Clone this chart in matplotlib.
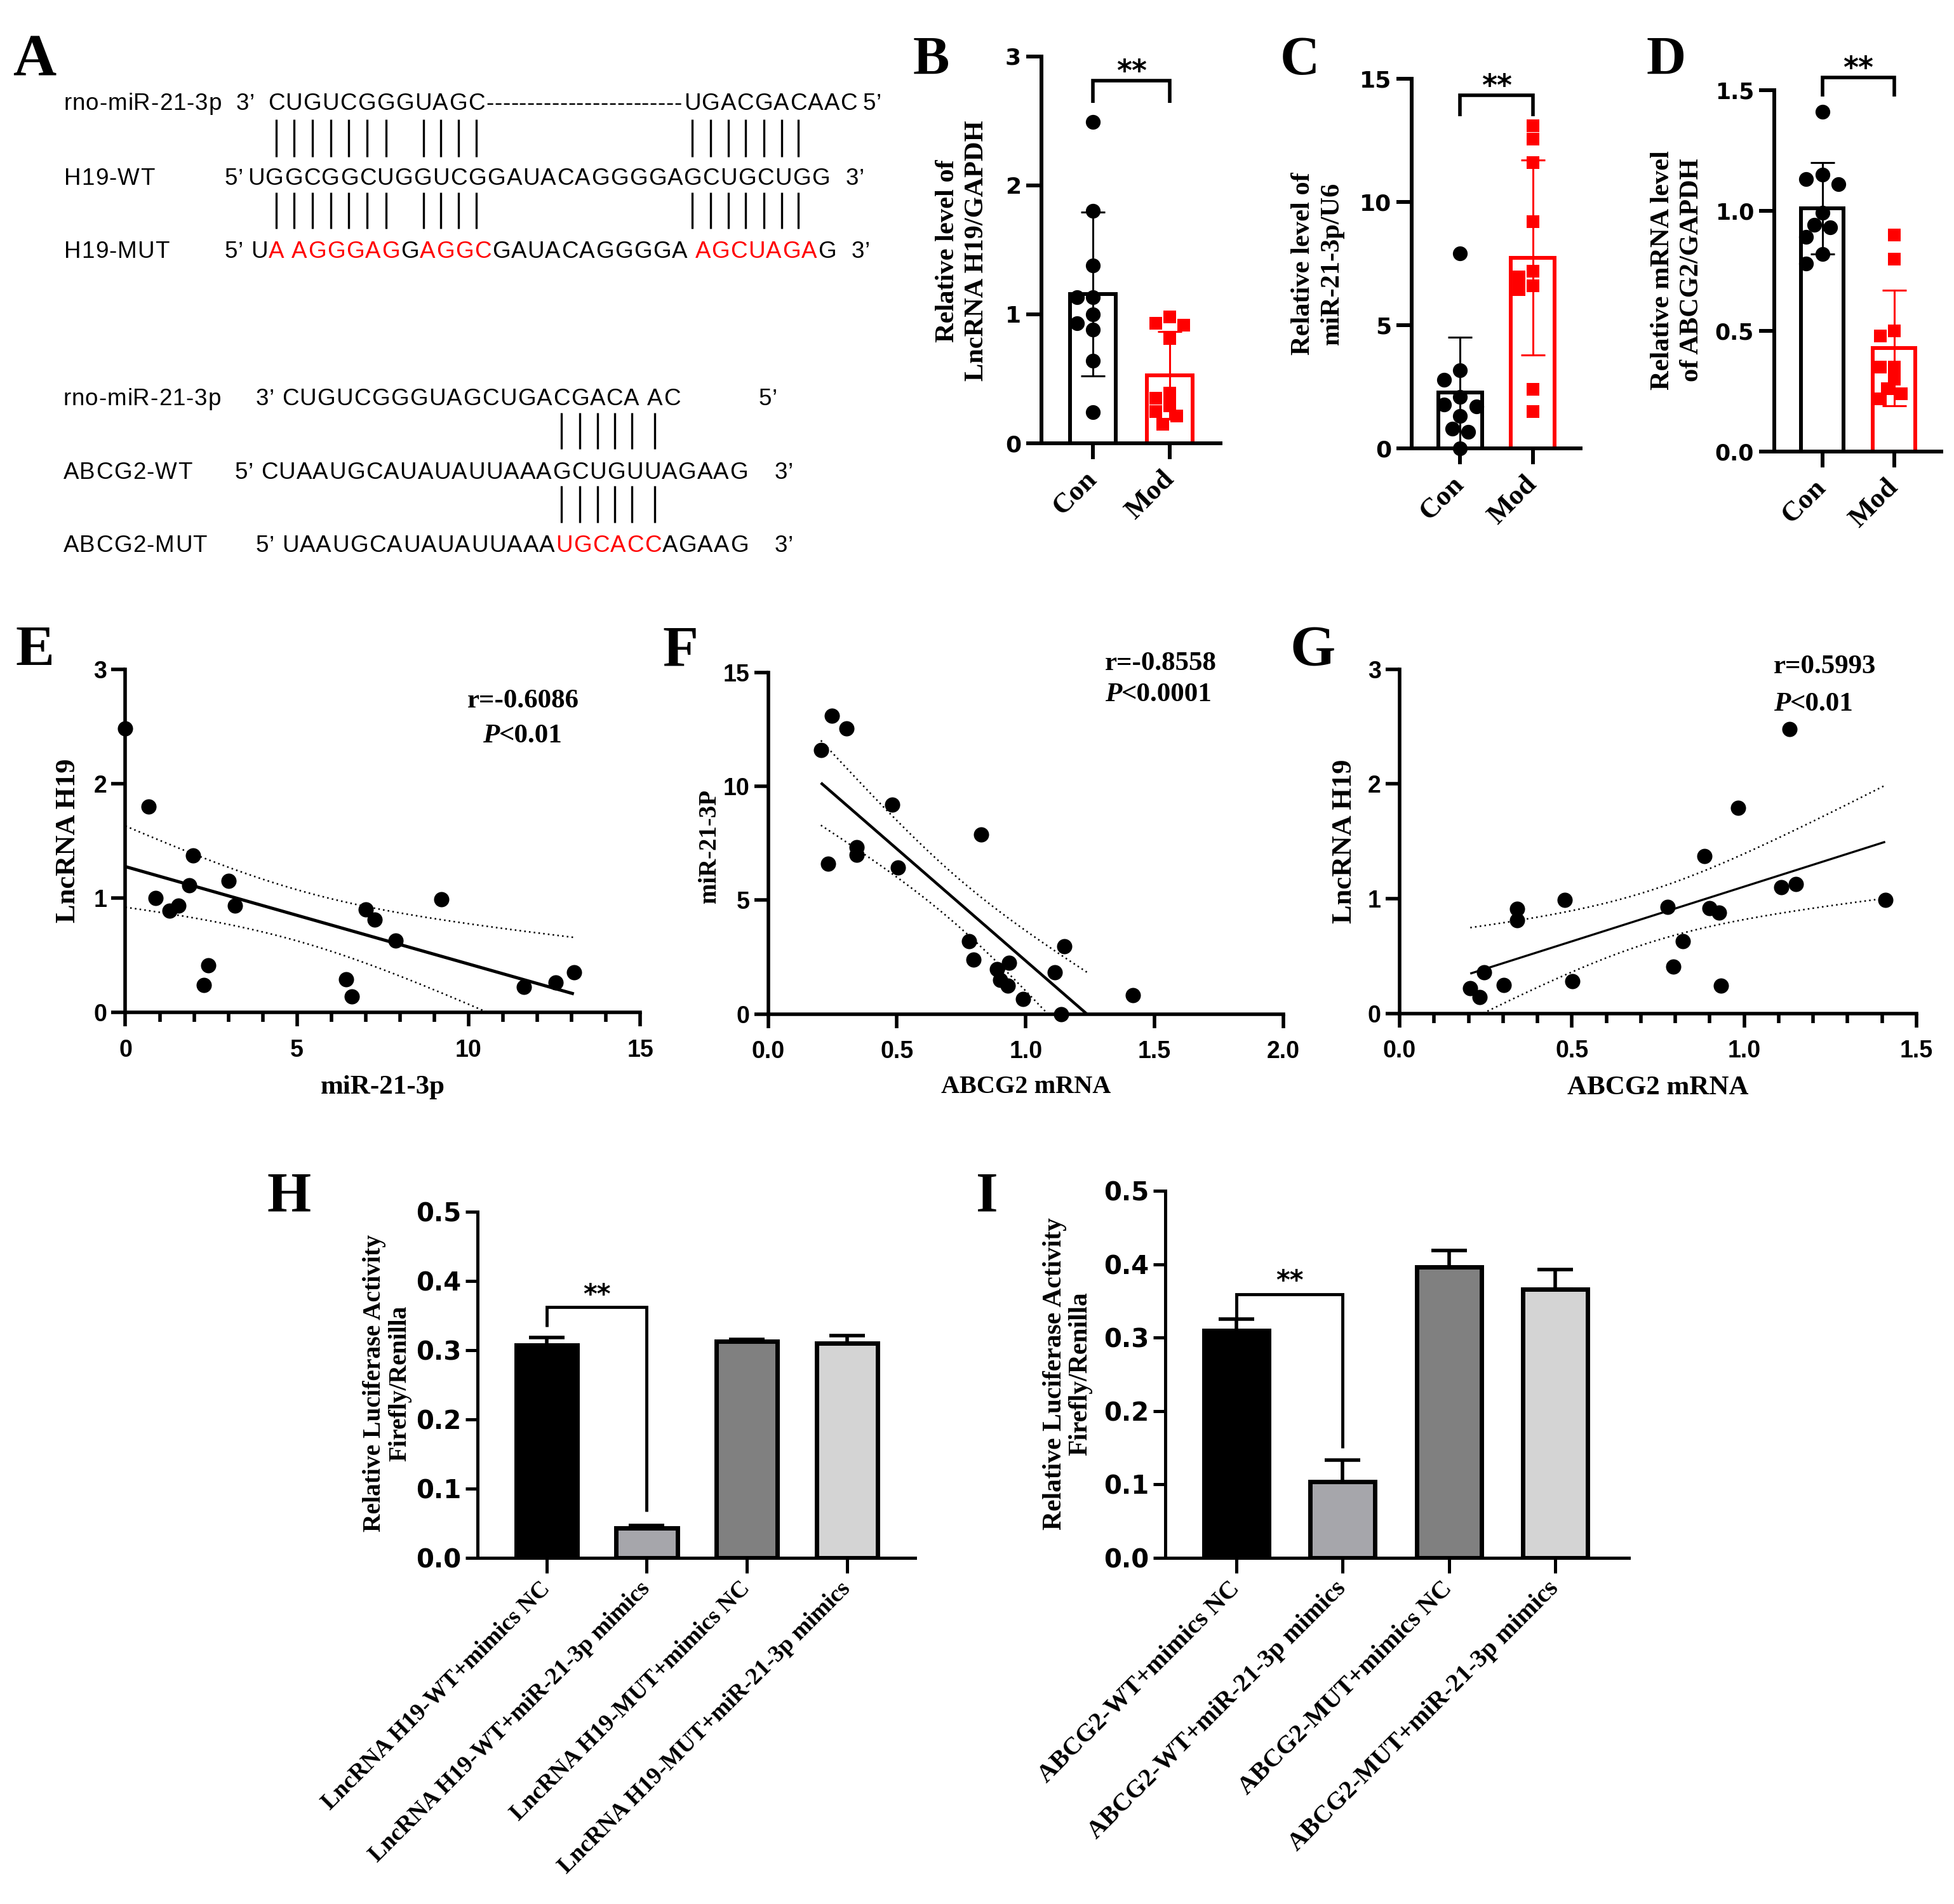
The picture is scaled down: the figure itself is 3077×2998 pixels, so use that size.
import numpy as np
import matplotlib
matplotlib.use("Agg")
import matplotlib.pyplot as plt
from matplotlib.ticker import MultipleLocator
from matplotlib.font_manager import FontProperties, findfont, get_font

W, H, DPI = 3077, 2998, 100

# ---------------- data ----------------
groups = ['Con', 'Mod']
b_con = [2.49, 1.80, 1.38, 1.13, 1.13, 1.00, 0.93, 0.88, 0.64, 0.24]
b_mod = [0.98, 0.93, 0.915, 0.81, 0.39, 0.35, 0.29, 0.245, 0.21, 0.15]
b_mean = [1.155, 0.527]
b_sd = [0.635, 0.34]

c_con = [7.9, 3.16, 2.79, 2.08, 1.78, 1.71, 1.32, 0.79, 0.66, 0.0]
c_mod = [13.1, 12.55, 11.6, 9.2, 7.2, 6.97, 6.6, 6.45, 2.4, 1.5]
c_mean = [2.26, 7.74]
c_sd = [2.24, 3.95]

d_con = [1.41, 1.15, 1.13, 1.11, 0.99, 0.94, 0.93, 0.89, 0.82, 0.78]
d_mod = [0.90, 0.80, 0.50, 0.48, 0.35, 0.35, 0.30, 0.26, 0.24, 0.22]
d_mean = [1.01, 0.43]
d_sd = [0.19, 0.24]

e_mir = [0.0, 0.68, 1.98, 1.86, 3.0, 0.87, 9.2, 3.2, 1.28, 1.55,
         7.0, 7.27, 7.87, 2.42, 2.29, 6.44, 6.6, 11.61, 12.54, 13.07]
e_h19 = [2.48, 1.80, 1.37, 1.11, 1.15, 1.00, 0.99, 0.93, 0.89, 0.93,
         0.90, 0.81, 0.63, 0.41, 0.24, 0.29, 0.14, 0.22, 0.26, 0.35]

f_abcg2 = [0.248, 0.305, 0.205, 0.483, 0.826, 0.343, 0.343, 0.232, 0.503, 0.781,
           1.15, 0.798, 0.935, 0.889, 1.113, 0.902, 0.930, 0.990, 1.416, 1.137]
f_mir = [13.08, 12.55, 11.6, 9.18, 7.88, 7.32, 6.98, 6.59, 6.42, 3.19,
         2.98, 2.40, 2.26, 1.98, 1.84, 1.50, 1.25, 0.67, 0.83, 0.0]

g_abcg2 = [1.131, 0.983, 0.885, 1.108, 1.149, 1.409, 0.479, 0.341, 0.341, 0.778,
           0.899, 0.927, 0.821, 0.794, 0.933, 0.501, 0.302, 0.245, 0.205, 0.233]
g_h19 = [2.48, 1.79, 1.37, 1.10, 1.13, 0.99, 0.99, 0.91, 0.81, 0.93,
         0.92, 0.88, 0.63, 0.41, 0.24, 0.28, 0.25, 0.36, 0.22, 0.14]

e_stats = ('r=-0.6086', '<0.01')
f_stats = ('r=-0.8558', '<0.0001')
g_stats = ('r=0.5993', '<0.01')

h_labels = ['LncRNA H19-WT+mimics NC', 'LncRNA H19-WT+miR-21-3p mimics',
            'LncRNA H19-MUT+mimics NC', 'LncRNA H19-MUT+miR-21-3p mimics']
h_mean = [0.307, 0.043, 0.313, 0.310]
h_err = [0.011, 0.004, 0.003, 0.011]

i_labels = ['ABCG2-WT+mimics NC', 'ABCG2-WT+miR-21-3p mimics',
            'ABCG2-MUT+mimics NC', 'ABCG2-MUT+miR-21-3p mimics']
i_mean = [0.310, 0.104, 0.396, 0.366]
i_err = [0.015, 0.029, 0.023, 0.027]

bar_colors = ['#000000', '#a6a6ab', '#808080', '#d4d4d4']

# ---------------- figure ----------------
SERIF = 'Liberation Serif'
SANS = 'Liberation Sans'
WIDE = 'DejaVu Sans'
RED = '#ff0000'

fig = plt.figure(figsize=(W / DPI, H / DPI), dpi=DPI)
fig.patch.set_facecolor('white')
ov = fig.add_axes([0, 0, 1, 1])
ov.set_xlim(0, W)
ov.set_ylim(H, 0)
ov.axis('off')

# ---------- panel A : sequence diagram ----------
SEQ_SIZE = 26.5
STRETCH = 1.05
_fp_seq = FontProperties(family=SANS, size=SEQ_SIZE)
_ft = get_font(findfont(_fp_seq))
_ft.set_size(SEQ_SIZE, DPI)


def _raw_adv(ch):
    g = _ft.load_char(ord(ch))
    return g.linearHoriAdvance / 65536.0


_NORM = 0.556 * SEQ_SIZE * DPI / 72.0 / _raw_adv('0')


def seq_segments(x, y, segments):
    centers = []
    for s, col in segments:
        for ch in s:
            a = _raw_adv(ch) * _NORM * STRETCH
            if ch != ' ':
                ov.text(x + a / 2, y, ch, fontproperties=_fp_seq, color=col,
                        ha='center', va='baseline')
            centers.append(x + a / 2)
            x += a
    return centers


def seq_text(x, y, s, col='black'):
    return seq_segments(x, y, [(s, col)])


def pair_bars(xs, y0, y1):
    for xx in xs:
        ov.plot([xx, xx], [y0, y1], color='black', lw=2.4, solid_capstyle='butt')


y1, y2, y3 = 173, 291, 406
seq_text(100, y1, 'rno-miR-21-3p')
seq_text(371, y1, '3\u2019')
c1 = seq_text(421, y1, 'CUGUCGGGUAGC')
seq_text(765, y1, '-' * 24)
c2 = seq_text(1076, y1, 'UGACGACAAC')
seq_text(1358, y1, '5\u2019')
seq_text(100, y2, 'H19-WT')
seq_text(353, y2, '5\u2019')
seq_text(389, y2, 'UGGCGGCUGGUCGGAUACAGGGGAGCUGCUGG')
seq_text(1331, y2, '3\u2019')
seq_text(100, y3, 'H19-MUT')
seq_text(353, y3, '5\u2019')
seq_segments(394, y3, [('U', 'black'), ('A AGGGAG', RED), ('G', 'black'), ('AGGC', RED),
                       ('GAUACAGGGGA ', 'black'), ('AGCUAGA', RED), ('G', 'black')])
seq_text(1340, y3, '3\u2019')
xb1 = [c1[i] for i in (0, 1, 2, 3, 4, 5, 6, 8, 9, 10, 11)] + [c2[i] for i in range(7)]
pair_bars(xb1, 188, 247)
pair_bars(xb1, 303, 360)

y4, y5, y6 = 638, 754, 869
seq_text(99, y4, 'rno-miR-21-3p')
seq_text(402, y4, '3\u2019')
c3 = seq_text(443, y4, 'CUGUCGGGUAGCUGACGACA AC')
seq_text(1194, y4, '5\u2019')
seq_text(99, y5, 'ABCG2-WT')
seq_text(369, y5, '5\u2019')
seq_text(410, y5, 'CUAAUGCAUAUAUUAAAGCUGUUAGAAG')
seq_text(1219, y5, '3\u2019')
seq_text(99, y6, 'ABCG2-MUT')
seq_text(402, y6, '5\u2019')
seq_segments(443, y6, [('UAAUGCAUAUAUUAAA', 'black'), ('UGCACC', RED), ('AGAAG', 'black')])
seq_text(1219, y6, '3\u2019')
xb2 = [c3[i] for i in (15, 16, 17, 18, 19, 21)]
pair_bars(xb2, 650, 707)
pair_bars(xb2, 765, 823)

# ---------- panel letters ----------
for letter, x, yb, fs in [('A', 20, 118, 68), ('B', 1438, 117, 62), ('C', 2016, 117, 62),
                          ('D', 2592, 117, 62), ('E', 24, 1048, 66), ('F', 1043, 1048, 66),
                          ('G', 2031, 1048, 66), ('H', 420, 1906, 64), ('I', 1537, 1906, 64)]:
    ov.text(x, yb, letter, fontfamily=SERIF, fontweight='bold', fontsize=fs,
            ha='left', va='baseline')


# ---------- helpers ----------
def add_ax(l, r, t, b):
    ax = fig.add_axes([l / W, 1 - b / H, (r - l) / W, (b - t) / H])
    ax.patch.set_alpha(0)
    for s in ('top', 'right'):
        ax.spines[s].set_visible(False)
    return ax


def style(ax, lw, ylen, xlen, ypad, xpad):
    for s in ('left', 'bottom'):
        ax.spines[s].set_linewidth(lw)
        ax.spines[s].set_capstyle('projecting')
    ax.tick_params(axis='both', which='major', direction='out', width=lw, colors='black')
    ax.tick_params(axis='y', length=ylen, pad=ypad)
    ax.tick_params(axis='x', length=xlen, pad=xpad)


def swarm(vals, pxx, pxy, d):
    v = np.asarray(vals, float)
    order = np.argsort(-v, kind='stable')
    placed = []
    off = np.zeros(len(v))
    for i in order:
        yp = v[i] * pxy
        dx = 0.0
        for k in (0, -1, 1, -2, 2, -3, 3, -4, 4):
            dx = k * 0.55 * d
            if all((dx - a) ** 2 + (yp - c) ** 2 >= (0.9 * d) ** 2 for a, c in placed):
                break
        placed.append((dx, yp))
        off[i] = dx / pxx
    return off


def ylabel_text(x, y, s, fs, ls=1.25):
    ov.text(x, y, s, fontfamily=SERIF, fontweight='bold', fontsize=fs, rotation=90,
            ha='center', va='center', multialignment='center', linespacing=ls)


def dot_bar(box, con, mod, mean, sd, ymax, yticks, ytl, tfs, br):
    l, r, t, b = box
    ax = add_ax(l, r, t, b)
    xl = (-0.67, 1.66)
    ax.set_xlim(*xl)
    ax.set_ylim(0, ymax)
    pxx = (r - l) / (xl[1] - xl[0])
    pxy = (b - t) / ymax
    cols = ['black', RED]
    ax.bar([0, 1], mean, width=0.6, facecolor='white', edgecolor=cols, linewidth=4.3, zorder=2)
    for i in range(2):
        ax.errorbar(i, mean[i], yerr=sd[i], fmt='none', ecolor=cols[i], elinewidth=2.2,
                    capsize=14, capthick=2.2, zorder=3)
    oc = swarm(con, pxx, pxy, 23)
    om = swarm(mod, pxx, pxy, 20)
    ax.scatter(0 + oc, con, s=280, marker='o', color='black', linewidths=0, zorder=4, clip_on=False)
    ax.scatter(1 + om, mod, s=190, marker='s', color=RED, linewidths=0, zorder=4, clip_on=False)
    lo, hi = br
    ax.plot([0, 0, 1, 1], [lo, hi, hi, lo], color='black', lw=4, clip_on=False,
            solid_joinstyle='miter', solid_capstyle='butt')
    ax.text(0.5, hi, '**', ha='center', va='baseline', fontfamily=WIDE, fontweight='bold',
            fontsize=33, clip_on=False)
    style(ax, 4.3, 17, 18, 6, 18)
    ax.set_yticks(yticks, ytl, fontfamily=WIDE, fontweight='bold', fontsize=tfs)
    ax.set_xticks([0, 1], groups, rotation=45, ha='right', va='center', rotation_mode='anchor',
                  fontfamily=SERIF, fontweight='bold', fontsize=32)
    return ax


# ---------- panels B, C, D ----------
dot_bar((1640, 1922, 88.5, 698), b_con, b_mod, b_mean, b_sd, 3, [0, 1, 2, 3],
        ['0', '1', '2', '3'], 26, (2.64, 2.81))
ylabel_text(1515, 395, 'Relative level of\nLncRNA H19/GAPDH', 30.5)

dot_bar((2223, 2489, 124, 706), c_con, c_mod, c_mean, c_sd, 15, [0, 5, 10, 15],
        ['0', '5', '10', '15'], 26, (13.49, 14.34))
ylabel_text(2075, 415, 'Relative level of\nmiR-21-3p/U6', 30.5)

dot_bar((2794, 3057, 142, 711), d_con, d_mod, d_mean, d_sd, 1.5, [0, 0.5, 1.0, 1.5],
        ['0.0', '0.5', '1.0', '1.5'], 25, (1.473, 1.554))
ylabel_text(2641, 425, 'Relative mRNA level\nof ABCG2/GAPDH', 30.5)


# ---------- panels E, F, G ----------
def reg_plot(ax, x, y, lw):
    x = np.asarray(x, float)
    y = np.asarray(y, float)
    b, a = np.polyfit(x, y, 1)
    x0, x1 = x.min(), x.max()
    if a + b * x1 < 0:
        x1 = -a / b
    xs = np.linspace(x0, x1, 300)
    yh = a + b * xs
    n = len(x)
    s = np.sqrt(((y - (a + b * x)) ** 2).sum() / (n - 2))
    sxx = ((x - x.mean()) ** 2).sum()
    se = s * np.sqrt(1.0 / n + (xs - x.mean()) ** 2 / sxx)
    t = 2.1009
    ax.plot(xs, yh, color='black', lw=lw, solid_capstyle='butt', zorder=2)
    ax.plot(xs, yh + t * se, color='black', lw=1.8, ls=(0, (1, 2)), zorder=2)
    ax.plot(xs, yh - t * se, color='black', lw=1.8, ls=(0, (1, 2)), zorder=2)


def rp_text(xr, xp, yr, yp, stats, fs=31):
    ov.text(xr, yr, stats[0], fontfamily=SERIF, fontweight='bold', fontsize=fs,
            ha='left', va='baseline')
    tp = ov.text(xp, yp, 'P', fontfamily=SERIF, fontweight='bold', fontstyle='italic',
                 fontsize=fs, ha='left', va='baseline')
    ov.annotate(stats[1], xy=(1, 0), xycoords=tp, ha='left', va='bottom',
                fontfamily=SERIF, fontweight='bold', fontsize=fs)


def scatter_panel(box, x, y, xlim, ylim, xt, xtl, yt, ytl, minor, lw):
    l, r, t, b = box
    ax = add_ax(l, r, t, b)
    ax.set_xlim(*xlim)
    ax.set_ylim(*ylim)
    reg_plot(ax, x, y, lw)
    ax.scatter(x, y, s=300, color='black', linewidths=0, zorder=3, clip_on=False)
    style(ax, 4, 16, 16, 5, 14)
    ax.set_xticks(xt, xtl, fontfamily=SANS, fontweight='bold', fontsize=27)
    ax.set_yticks(yt, ytl, fontfamily=SANS, fontweight='bold', fontsize=27)
    if minor:
        ax.xaxis.set_minor_locator(MultipleLocator(minor))
        ax.tick_params(axis='x', which='minor', direction='out', length=10.5, width=4)
    return ax


scatter_panel((197.5, 1008, 1053.6, 1594), e_mir, e_h19, (0, 15), (0, 3),
              [0, 5, 10, 15], ['0', '5', '10', '15'], [0, 1, 2, 3], ['0', '1', '2', '3'], 1, 3.6)
rp_text(736, 760, 1114, 1169, e_stats)
ov.text(603, 1712, 'miR-21-3p', fontfamily=SERIF, fontweight='bold', fontsize=31,
        ha='center', va='center')
ylabel_text(107, 1324, 'LncRNA H19', 32)

scatter_panel((1209.5, 2021, 1058.6, 1596.8), f_abcg2, f_mir, (0, 2), (0, 15),
              [0, 0.5, 1.0, 1.5, 2.0], ['0.0', '0.5', '1.0', '1.5', '2.0'],
              [0, 5, 10, 15], ['0', '5', '10', '15'], None, 3.2)
rp_text(1740, 1740, 1055, 1104, f_stats)
ov.text(1616, 1711, 'ABCG2 mRNA', fontfamily=SERIF, fontweight='bold', fontsize=29,
        ha='center', va='center')
ylabel_text(1117, 1332, 'miR-21-3P', 28)

scatter_panel((2204, 3018, 1053.6, 1595.8), g_abcg2, g_h19, (0, 1.5), (0, 3),
              [0, 0.5, 1.0, 1.5], ['0.0', '0.5', '1.0', '1.5'],
              [0, 1, 2, 3], ['0', '1', '2', '3'], 0.1, 2.4)
rp_text(2793, 2793, 1060, 1119, g_stats)
ov.text(2611, 1713, 'ABCG2 mRNA', fontfamily=SERIF, fontweight='bold', fontsize=31,
        ha='center', va='center')
ylabel_text(2117, 1325, 'LncRNA H19', 32)


# ---------- panels H, I ----------
def lucif(box, xl, labels, mean, err, br, lfs):
    l, r, t, b = box
    ax = add_ax(l, r, t, b)
    ax.set_xlim(*xl)
    ax.set_ylim(0, 0.5)
    xs = np.arange(len(mean))
    ax.bar(xs, mean, width=0.61, color=bar_colors, edgecolor='black', linewidth=5, zorder=2)
    ax.errorbar(xs, mean, yerr=[np.zeros(len(err)), err], fmt='none', ecolor='black',
                elinewidth=4, capsize=20, capthick=4, zorder=1)
    lo_l, hi, lo_r, star = br
    ax.plot([0, 0, 1, 1], [lo_l, hi, hi, lo_r], color='black', lw=3.5, clip_on=False,
            solid_joinstyle='miter', solid_capstyle='butt')
    ax.text(0.5, star, '**', ha='center', va='baseline', fontfamily=WIDE, fontweight='bold',
            fontsize=30)
    style(ax, 3.6, 14, 17, 4, 14)
    ax.set_yticks([0, 0.1, 0.2, 0.3, 0.4, 0.5], ['0.0', '0.1', '0.2', '0.3', '0.4', '0.5'],
                  fontfamily=WIDE, fontweight='bold', fontsize=29)
    ax.set_xticks(xs, labels, rotation=45, ha='right', va='center', rotation_mode='anchor',
                  fontfamily=SERIF, fontweight='bold', fontsize=lfs)
    return ax


lucif((751.5, 1441, 1908, 2453), (-0.693, 3.68), h_labels, h_mean, h_err,
      (0.334, 0.3625, 0.067, 0.368), 27)
ylabel_text(609.5, 2178, 'Relative Luciferase Activity\nFirefly/Renilla', 28.5, 1.1)

lucif((1834.7, 2564.6, 1875, 2453), (-0.67, 3.69), i_labels, i_mean, i_err,
      (0.325, 0.359, 0.150, 0.366), 29)
ylabel_text(1681, 2163, 'Relative Luciferase Activity\nFirefly/Renilla', 30, 1.1)

fig.savefig('out.png', dpi=DPI, facecolor='white')
